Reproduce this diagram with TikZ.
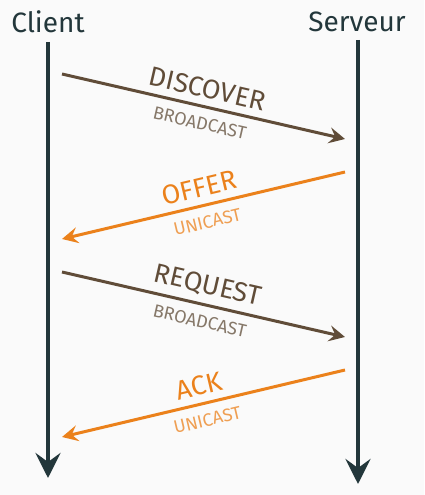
\documentclass[tikz,border=0pt]{standalone}
\usepackage{fontspec}
\setmainfont{Fira Sans}
\usepackage{tikz}
\usetikzlibrary{arrows.meta}
\definecolor{mDarkTeal}{HTML}{23373B}
\definecolor{mDarkBrown}{HTML}{604C38}
\definecolor{mLightBrown}{HTML}{EB811B}
\definecolor{mBg}{HTML}{FAFAFA}

\begin{document}
\begin{tikzpicture}[x=1pt,y=-1pt,
  who/.style={text=mDarkTeal,font=\fontsize{28}{28}\selectfont,inner sep=0pt},
  life/.style={mDarkTeal,line width=4.5pt,-{Stealth[length=25pt,width=25pt,inset=9pt]}},
  msg/.style={line width=3pt,-{Stealth[length=16pt,width=16pt,inset=6pt]}}]
\fill[mBg] (0,0) rectangle (424,495);
\useasboundingbox (0,0) rectangle (424,495);
\node[who] (client) at (48,22) {Client};
\node[who] (serveur) at (357,22) {Serveur};
\coordinate (c0) at (48,42); \coordinate (c1) at (48,478);
\coordinate (s0) at (358,40); \coordinate (s1) at (358,484);
\draw[life] (c0) -- (c1);
\draw[life] (s0) -- (s1);
\foreach \xa/\ya/\xb/\yb/\txt/\cast/\col [count=\i] in
  {62/74/345/139/DISCOVER/BROADCAST/mDarkBrown,
   345/172/62/239/OFFER/UNICAST/mLightBrown,
   62/272/345/337/REQUEST/BROADCAST/mDarkBrown,
   345/370/62/437/ACK/UNICAST/mLightBrown} {
  \coordinate (a\i) at (\xa,\ya); \coordinate (b\i) at (\xb,\yb);
  \draw[msg,\col] (a\i) -- (b\i)
    node[midway,sloped,above=7pt,inner sep=0pt,font=\fontsize{27}{27}\selectfont] (m\i) {\txt}
    node[midway,sloped,below=9pt,inner sep=0pt,text=\col!75!mBg,font=\fontsize{18}{18}\selectfont] (k\i) {\cast};
}
\end{tikzpicture}
\end{document}
